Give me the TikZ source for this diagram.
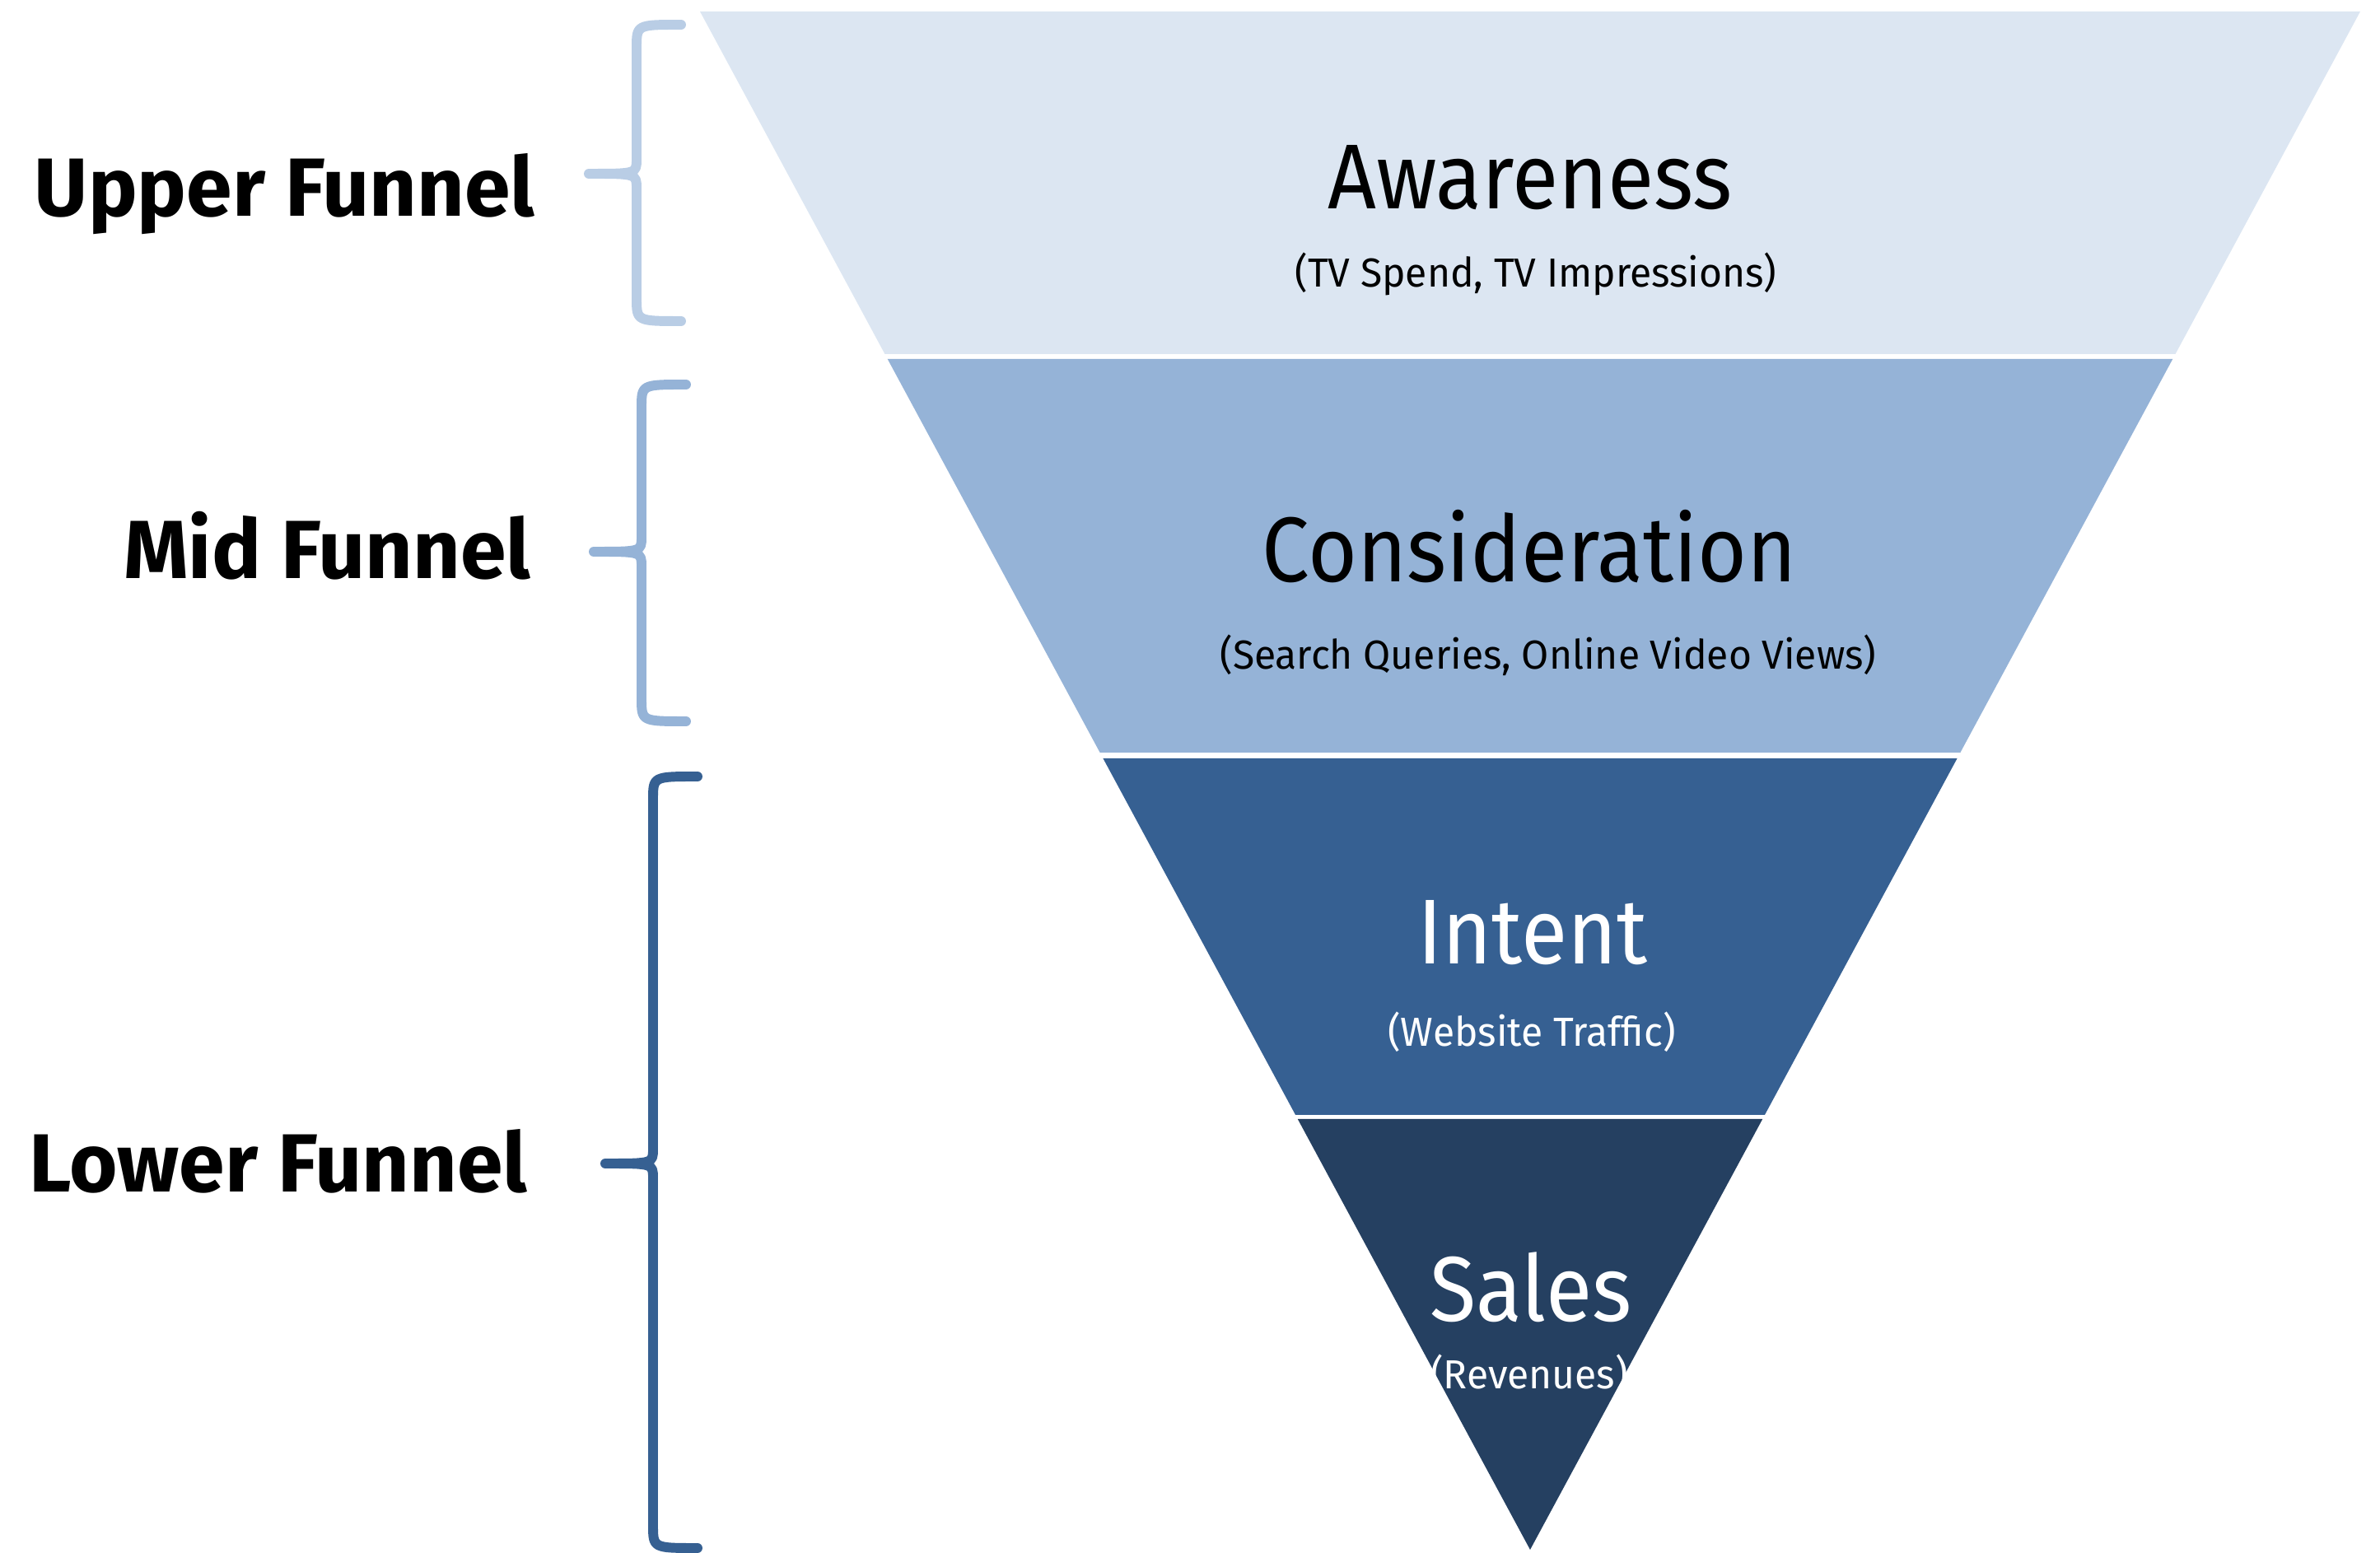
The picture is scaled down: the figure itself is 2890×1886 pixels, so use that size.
\documentclass[tikz,border=0pt]{standalone}
\usepackage{fontspec}
\setmainfont{Fira Sans}
\newfontfamily\funnelfont[FakeStretch=0.92]{Fira Sans}
\newfontfamily\subfont[FakeStretch=0.975]{Fira Sans}

\definecolor{bandA}{HTML}{DCE6F2}
\definecolor{bandB}{HTML}{95B3D7}
\definecolor{bandC}{HTML}{366092}
\definecolor{bandD}{HTML}{254061}
\definecolor{braceA}{HTML}{B9CDE5}

%one band of the funnel: colour, top edge, bottom edge
\newcommand{\band}[3]{\fill[#1] ({\cx-\slope*(\yapex-#2)},#2) -- ({\cx+\slope*(\yapex-#2)},#2) -- ({\cx+\slope*(\yapex-#3)},#3) -- ({\cx-\slope*(\yapex-#3)},#3) -- cycle;}
%curly bracket: spine x, top, middle, bottom
\newcommand{\bracket}[4]{(#1+54,#2) .. controls (#1,#2) .. (#1,#2+28) -- (#1,#3-18) .. controls (#1,#3) .. (#1-58,#3) .. controls (#1,#3) .. (#1,#3+18) -- (#1,#4-28) .. controls (#1,#4) .. (#1+54,#4)}

\tikzset{
	title/.style={font=\funnelfont\fontsize{31.8}{36}\selectfont, anchor=base, inner sep=0pt},
	sub/.style={font=\subfont\fontsize{14}{16}\selectfont, anchor=base, inner sep=0pt},
	stage/.style={font=\bfseries\fontsize{28.5}{32}\selectfont, anchor=base east, inner sep=0pt},
	brace/.style={line width=3.4pt, line cap=round, line join=round},
}

\begin{document}
\begin{tikzpicture}[x=0.01cm,y=-0.01cm]
\useasboundingbox (0,0) rectangle (2890,1886);

	%Define the funnel: centre \cx, top \ytop, apex \yapex
	\pgfmathsetmacro{\cx}{1858}
	\pgfmathsetmacro{\ytop}{14}
	\pgfmathsetmacro{\yapex}{1882}
	\pgfmathsetmacro{\slope}{1008/(\yapex-\ytop)}

	%Draw the four bands, with white gaps between them
	\band{bandA}{\ytop}{430}
	\band{bandB}{436}{914}
	\band{bandC}{921}{1354}
	\band{bandD}{1359}{\yapex}

	\draw node[title] (aware) at (1858,254) {Awareness};
	\draw node[sub] (awaresub) at (1865,349) {(TV Spend, TV Impressions)};
	\draw node[title] (consid) at (1857,707) {Consideration};
	\draw node[sub] (considsub) at (1880,813) {(Search Queries, Online Video Views)};
	\draw node[title,text=white] (intent) at (1861,1171) {Intent};
	\draw node[sub,text=white] (intentsub) at (1860,1271) {(Website Traffic)};
	\draw node[title,text=white] (sales) at (1859,1605) {Sales};
	\draw node[sub,text=white] (salessub) at (1857,1686) {(Revenues)};

	%Brackets and stage labels on the left
	\draw[brace,braceA] \bracket{773}{30}{211}{390};
	\draw[brace,bandB] \bracket{779}{467}{670}{876};
	\draw[brace,bandC] \bracket{793}{943}{1413}{1880};

	\draw node[stage] (upper) at (650,263) {Upper Funnel};
	\draw node[stage] (mid) at (645,703) {Mid Funnel};
	\draw node[stage] (lower) at (641,1448) {Lower Funnel};

\end{tikzpicture}
\end{document}
